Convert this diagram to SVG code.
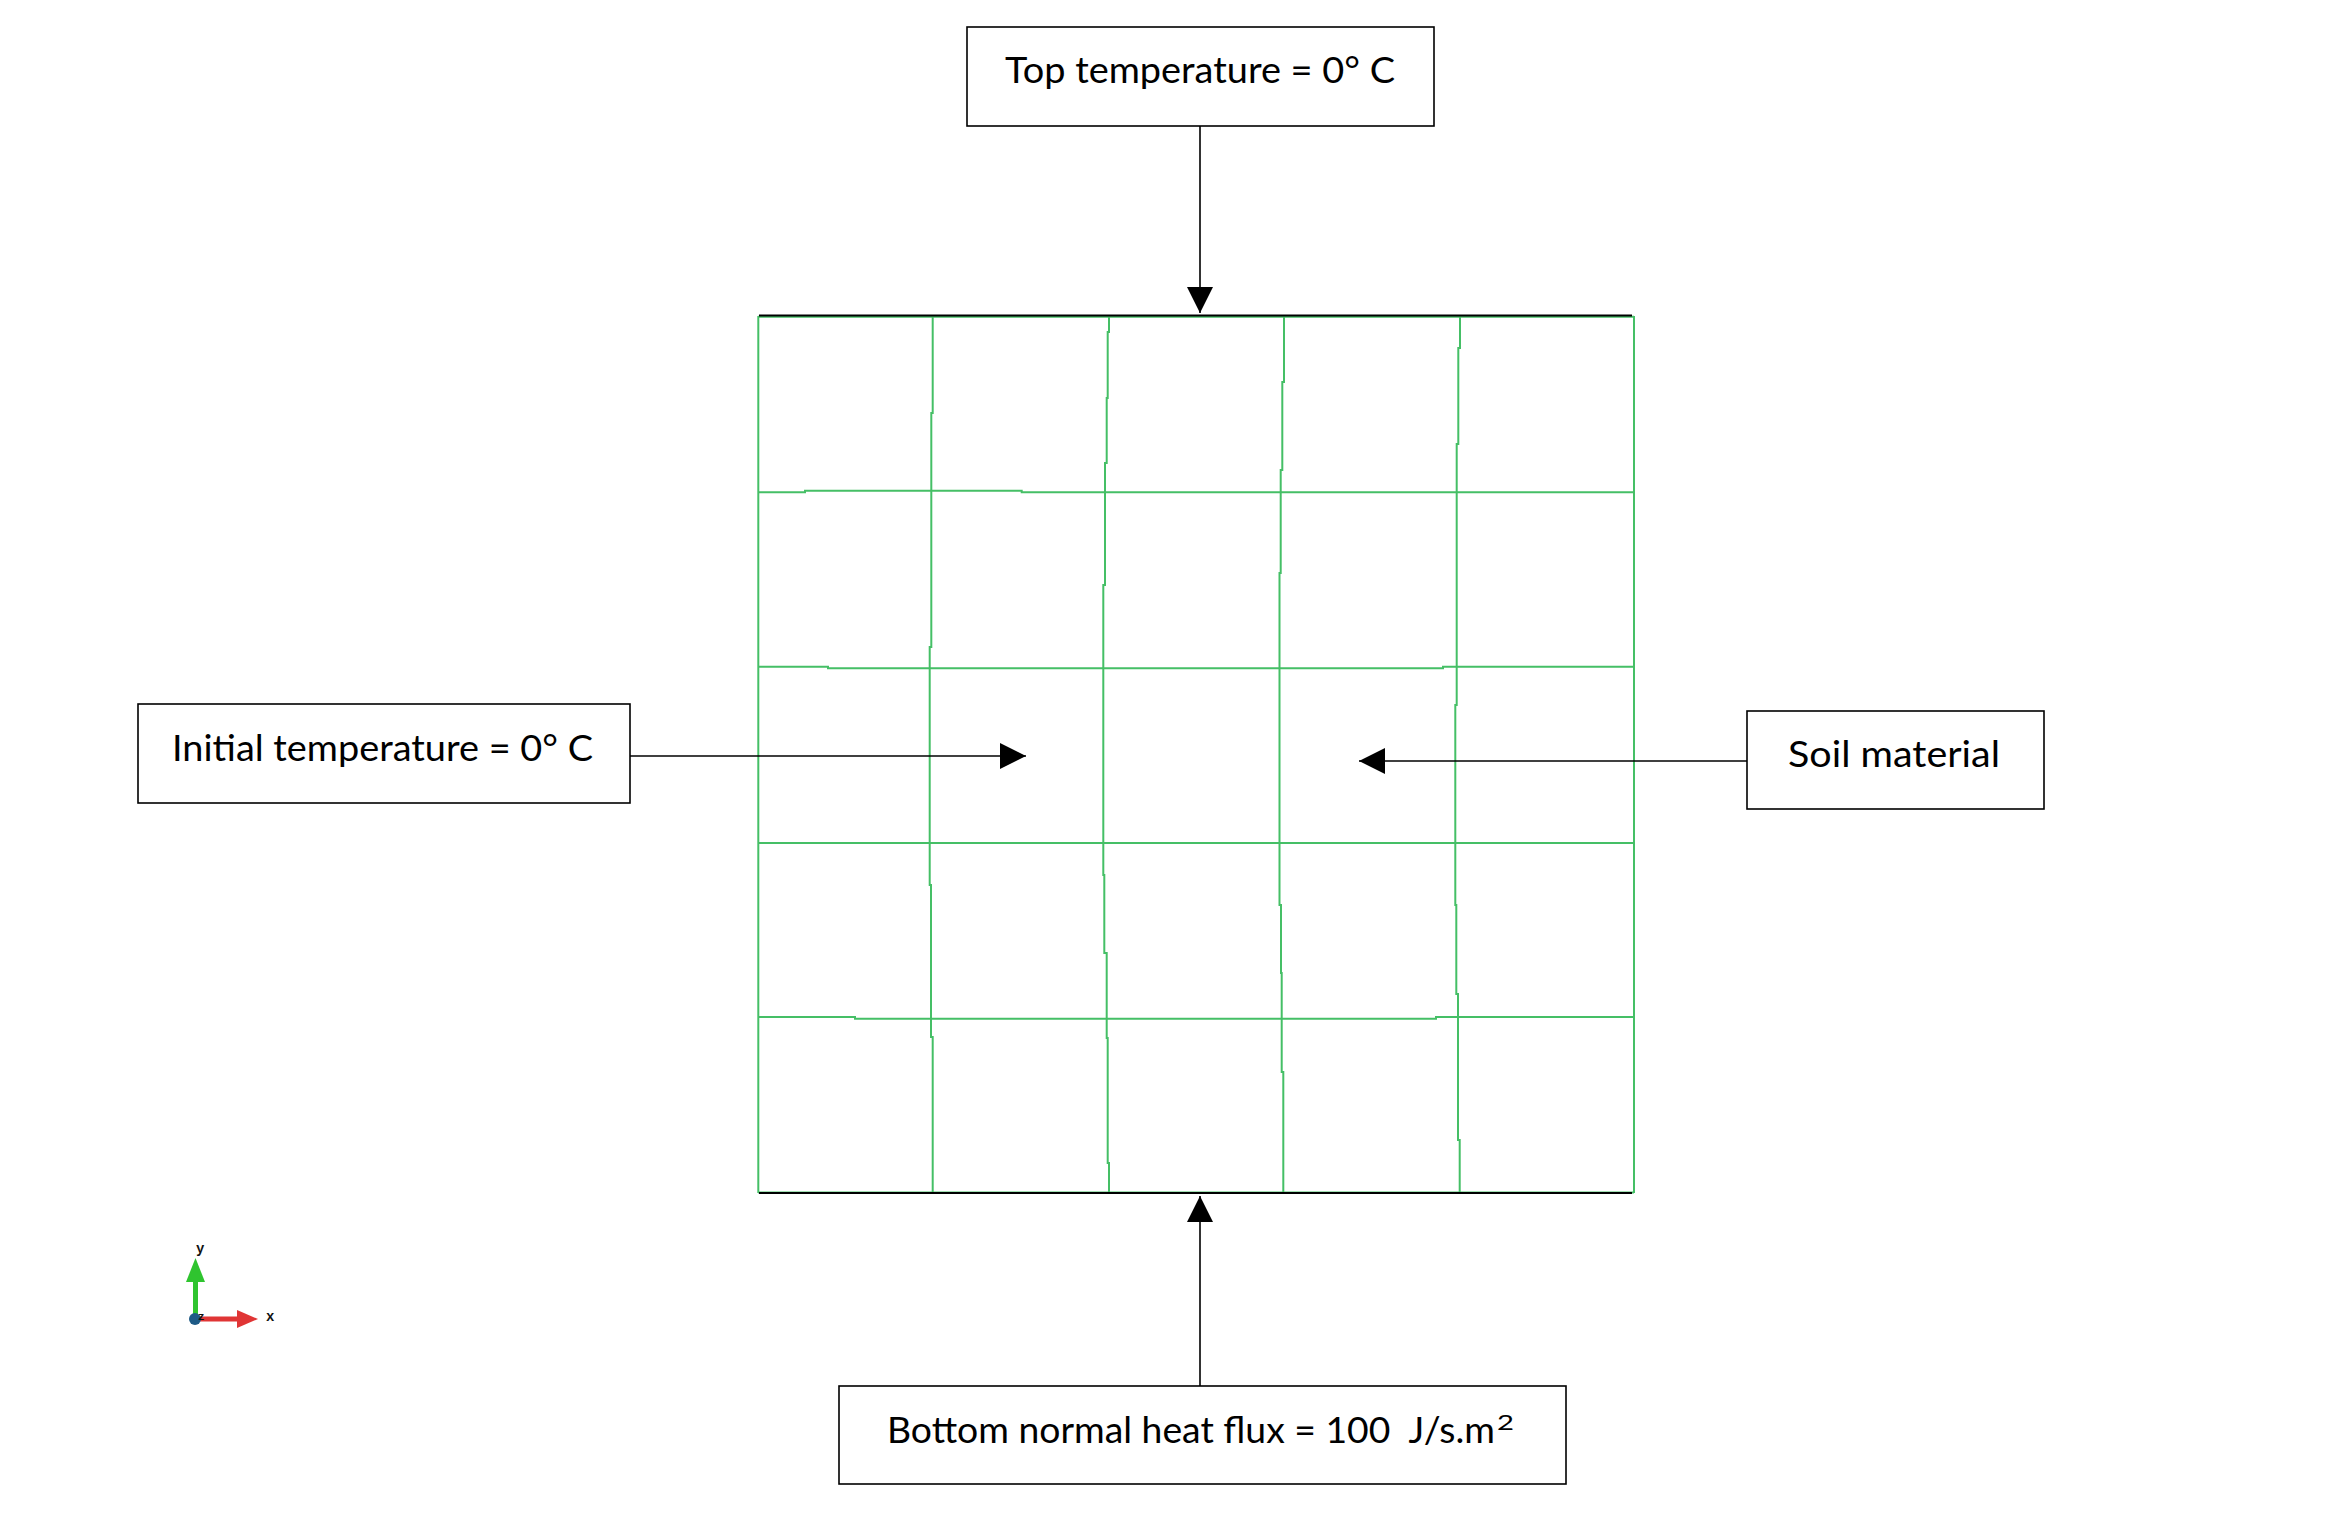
<svg xmlns="http://www.w3.org/2000/svg" width="2343" height="1518" viewBox="0 0 2343 1518">
<style>
.box{fill:#fff;stroke:#000;stroke-width:1.6}
.lbl{font-family:Lato,"Open Sans","Liberation Sans",sans-serif;font-size:36px;fill:#000;white-space:pre}
.mesh{fill:none;stroke:#45bf66;stroke-width:2}
.edge{stroke:#000;stroke-width:2}
.conn{stroke:#000;stroke-width:1.6;fill:none}
.ax{font-family:"Liberation Mono",monospace;font-weight:bold;font-size:14px;fill:#111}
</style>
<defs>
<marker id="ah" viewBox="0 0 26 26" refX="26" refY="13" markerWidth="26" markerHeight="26" markerUnits="userSpaceOnUse" orient="auto">
<path d="M0,0 L26,13 L0,26 Z" fill="#000"/>
</marker>
</defs>
<rect width="2343" height="1518" fill="#fff"/>

<g id="mesh">
<line class="mesh" x1="758.3" y1="316" x2="758.3" y2="1193"/>
<line class="mesh" x1="1634" y1="316" x2="1634" y2="1193"/>
<polyline class="mesh" points="932.7,316 932.7,413 931.3,413 931.3,647 929.7,647 929.7,885 931,885 931,1037 932.7,1037 932.7,1193"/>
<polyline class="mesh" points="1109,316 1109,332 1107.7,332 1107.7,398 1106.7,398 1106.7,463 1105,463 1105,585 1103.3,585 1103.3,875 1104.3,875 1104.3,953 1106.7,953 1106.7,1038 1107.7,1038 1107.7,1163 1109,1163 1109,1193"/>
<polyline class="mesh" points="1284,316 1284,382 1282.3,382 1282.3,470 1280.7,470 1280.7,573 1279.5,573 1279.5,905 1281,905 1281,973 1281.7,973 1281.7,1072 1283.3,1072 1283.3,1193"/>
<polyline class="mesh" points="1460,316 1460,348 1458.3,348 1458.3,444 1456.7,444 1456.7,705 1455.3,705 1455.3,905 1456.3,905 1456.3,994 1458,994 1458,1140 1459.7,1140 1459.7,1193"/>
<polyline class="mesh" points="758.3,492.3 805,492.3 805,490.7 1021.7,490.7 1021.7,492.3 1634,492.3"/>
<polyline class="mesh" points="758.3,666.7 828,666.7 828,668.3 1443,668.3 1443,666.7 1634,666.7"/>
<line class="mesh" x1="758.3" y1="843" x2="1634" y2="843"/>
<polyline class="mesh" points="758.3,1017 855,1017 855,1018.7 1436,1018.7 1436,1017 1634,1017"/>
<line class="mesh" x1="758.3" y1="316.8" x2="1634" y2="316.8"/>
<line class="mesh" x1="758.3" y1="1192.5" x2="1634" y2="1192.5"/>
<line class="edge" x1="759" y1="315.5" x2="1632" y2="315.5"/>
<line class="edge" x1="759" y1="1193" x2="1632" y2="1193"/>
</g>

<g id="connectors">
<line class="conn" x1="1200" y1="126" x2="1200" y2="313" marker-end="url(#ah)"/>
<line class="conn" x1="630" y1="756" x2="1026" y2="756" marker-end="url(#ah)"/>
<line class="conn" x1="1747" y1="761" x2="1359" y2="761" marker-end="url(#ah)"/>
<line class="conn" x1="1200" y1="1386" x2="1200" y2="1196" marker-end="url(#ah)"/>
</g>

<g id="node-top">
<rect class="box" x="967" y="27" width="467" height="99"/>
<text class="lbl" x="1005" y="83" textLength="390" lengthAdjust="spacingAndGlyphs">Top temperature = 0° C</text>
</g>

<g id="node-initial">
<rect class="box" x="138" y="704" width="492" height="99"/>
<text class="lbl" x="172" y="761" textLength="421" lengthAdjust="spacingAndGlyphs">Initial temperature = 0° C</text>
</g>

<g id="node-soil">
<rect class="box" x="1747" y="711" width="297" height="98"/>
<text class="lbl" x="1788" y="767" textLength="212" lengthAdjust="spacingAndGlyphs">Soil material</text>
</g>

<g id="node-bottom">
<rect class="box" x="839" y="1386" width="727" height="98"/>
<text class="lbl" x="887" y="1443" textLength="608" lengthAdjust="spacingAndGlyphs">Bottom normal heat flux = 100  J/s.m</text>
<text class="lbl" x="1497" y="1430" style="font-size:22px" textLength="17" lengthAdjust="spacingAndGlyphs">2</text>
</g>

<g id="axes">
<rect x="193" y="1281" width="5" height="38" fill="#2fc42f"/>
<path d="M186,1282 L205,1282 L195.5,1258 Z" fill="#2fc42f"/>
<rect x="200" y="1316.5" width="38" height="5" fill="#e03535"/>
<path d="M237,1310 L237,1328 L258,1319 Z" fill="#e03535"/>
<circle cx="195" cy="1319" r="6" fill="#1d5a86"/>
<text class="ax" x="196" y="1253">y</text>
<text class="ax" x="266" y="1321">x</text>
<text class="ax" x="198" y="1320" style="font-size:11px">z</text>
</g>
</svg>
